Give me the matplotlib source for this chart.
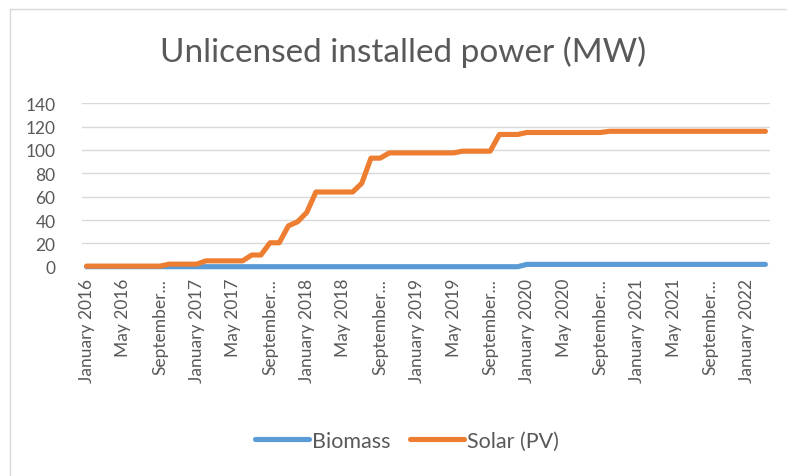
import matplotlib
matplotlib.use("Agg")
import matplotlib.pyplot as plt
from matplotlib.lines import Line2D

# ---- data ----
month_names = ["January", "February", "March", "April", "May", "June", "July",
               "August", "September", "October", "November", "December"]
categories = [f"{m} {y}" for y in range(2016, 2023) for m in month_names][:75]  # Jan 2016 .. Mar 2022

biomass = [0, 0, 0, 0, 0, 0, 0, 0, 0, 0, 0, 0,
           0, 0, 0, 0, 0, 0, 0, 0, 0, 0, 0, 0,
           0, 0, 0, 0, 0, 0, 0, 0, 0, 0, 0, 0,
           0, 0, 0, 0, 0, 0, 0, 0, 0, 0, 0, 0,
           2, 2, 2, 2, 2, 2, 2, 2, 2, 2, 2, 2,
           2, 2, 2, 2, 2, 2, 2, 2, 2, 2, 2, 2,
           2, 2, 2]

solar = [0.5, 0.5, 0.5, 0.5, 0.5, 0.5, 0.5, 0.5, 0.5, 2.2, 2.2, 2.2,
         2.2, 5, 5, 5, 5, 5, 10, 10, 20.5, 20.5, 35, 38.5,
         46.5, 64, 64, 64, 64, 64, 71.5, 93, 93, 97.5, 97.5, 97.5,
         97.5, 97.5, 97.5, 97.5, 97.5, 99, 99, 99, 99, 113.3, 113.3, 113.3,
         115, 115, 115, 115, 115, 115, 115, 115, 115, 116, 116, 116,
         116, 116, 116, 116, 116, 116, 116, 116, 116, 116, 116, 116,
         116, 116, 116]

tick_labels = ["January 2016", "May 2016", "September...",
               "January 2017", "May 2017", "September...",
               "January 2018", "May 2018", "September...",
               "January 2019", "May 2019", "September...",
               "January 2020", "May 2020", "September...",
               "January 2021", "May 2021", "September...",
               "January 2022"]
y_ticks = [0, 20, 40, 60, 80, 100, 120, 140]
series_names = ["Biomass", "Solar (PV)"]
title = "Unlicensed installed power (MW)"

# ---- style ----
FONT = ["Lato", "DejaVu Sans"]
plt.rcParams["font.family"] = FONT
TXT = "#595959"
BLUE = "#5B9BD5"
ORANGE = "#ED7D31"
GRID = "#D9D9D9"

W, H = 787, 477
fig = plt.figure(figsize=(W / 100, H / 100), dpi=100)
fig.patch.set_facecolor("white")

# chart frame (left + top edges visible)
fig.add_artist(Line2D([10 / W, 10 / W], [0, 1 - 10 / H], transform=fig.transFigure,
                      color=GRID, lw=1.0))
fig.add_artist(Line2D([10 / W, 1], [1 - 10 / H, 1 - 10 / H], transform=fig.transFigure,
                      color=GRID, lw=1.0))

left, right, top, bottom = 82, 770, 104.3, 267.7
ax = fig.add_axes([left / W, 1 - bottom / H, (right - left) / W, (bottom - top) / H])

x = list(range(len(categories)))
ax.plot(x, biomass, color=BLUE, lw=3.7, solid_capstyle="round",
        solid_joinstyle="round", zorder=3, clip_on=False, label=series_names[0])
ax.plot(x, solar, color=ORANGE, lw=3.7, solid_capstyle="round",
        solid_joinstyle="round", zorder=4, clip_on=False, label=series_names[1])

ax.set_xlim(-0.5, len(categories) - 0.5)
ax.set_ylim(0, 140)
ax.set_yticks(y_ticks)
ax.set_yticklabels([str(v) for v in y_ticks])
ax.set_xticks(x[::4])
ax.set_xticklabels(tick_labels, rotation=90)
ax.grid(axis="y", color=GRID, lw=1.0, zorder=0)
ax.set_axisbelow(True)
for s in ax.spines.values():
    s.set_visible(False)
ax.tick_params(axis="both", length=0, colors=TXT, labelsize=12.5)
ax.tick_params(axis="y", pad=19)
ax.tick_params(axis="x", pad=8)

fig.text(403 / W, 1 - 52 / H, title, ha="center", va="center",
         fontsize=24, color=TXT)

handles = [Line2D([], [], color=BLUE, lw=3.7, solid_capstyle="round"),
           Line2D([], [], color=ORANGE, lw=3.7, solid_capstyle="round")]
fig.legend(handles, series_names, loc="center", bbox_to_anchor=(407 / W, 1 - 442 / H),
           ncol=2, frameon=False, fontsize=15.5, labelcolor=TXT,
           handlelength=2.5, handletextpad=0.15, columnspacing=0.9)

fig.savefig("out.png", dpi=100, facecolor="white")
